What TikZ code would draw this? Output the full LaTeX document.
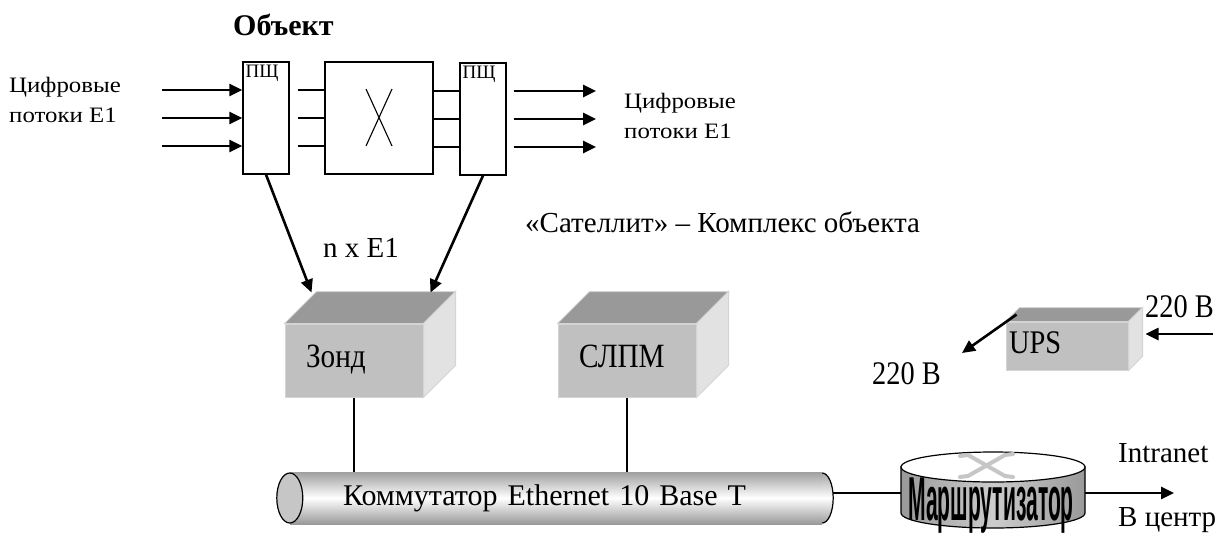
\documentclass[tikz,border=0pt]{standalone}
\usepackage{fontspec}
\setmainfont{Liberation Serif}
\newfontfamily\routerfont{Liberation Sans}
\newfontfamily\wideserif[FakeStretch=1.13]{Liberation Serif}
\newfontfamily\tallserif[FakeStretch=0.86]{Liberation Serif}
\usetikzlibrary{arrows.meta,positioning,calc}
\definecolor{boxfront}{HTML}{C0C0C0}
\definecolor{boxtop}{HTML}{999999}
\definecolor{boxside}{HTML}{E2E2E2}
\definecolor{boxedge}{HTML}{D4D4D4}
\newcommand{\fsz}[2]{\fontsize{#1}{#2}\selectfont}

\begin{document}
\begin{tikzpicture}[
    x=1pt, y=1pt, yscale=-1,
    arr/.style={-{Triangle[length=13pt,width=12pt]}, line width=2.6pt},
    wire/.style={line width=1.1pt},
    pshbox/.style={rectangle, draw, line width=1.2pt, minimum width=46pt,
                   minimum height=112pt, inner sep=0pt,
                   label={[anchor=north west, inner sep=3pt, font=\fsz{19}{19}]north west:ПЩ}},
    front/.style={rectangle, fill=boxfront, draw=boxedge, line width=1pt,
                  inner ysep=0pt, text height=13pt, text depth=0pt,
                  align=left, font=\fsz{34}{34}\tallserif},
    topface/.style={fill=boxtop, draw=boxedge, line width=1pt},
    sideface/.style={fill=boxside, draw=boxedge, line width=1pt},
    lbl/.style={anchor=base west, inner sep=0pt, font=\fsz{29}{29}},
    flow/.style={anchor=north west, inner sep=0pt, align=left, font=\fsz{22}{30}\wideserif},
]
    \useasboundingbox (0,0) rectangle (1226,542);

    % object: multiplexers and cross-connect
    \node[anchor=base west, inner sep=0pt, font=\fsz{30}{30}\bfseries] (obj) at (233,35) {Объект};
    \node[pshbox] (pshl) at (266,118) {};
    \node[rectangle, draw, line width=1.2pt, minimum width=108pt, minimum height=112pt] (xbox) at (379,118) {};
    \node[pshbox] (pshr) at (483,119) {};
    \draw[wire] ($(xbox.center)+(-13,-29)$) -- ($(xbox.center)+(13,28)$);
    \draw[wire] ($(xbox.center)+(13,-29)$) -- ($(xbox.center)+(-13,28)$);

    \coordinate (in) at (162,118);
    \coordinate (out) at (596,119);
    \foreach \dy in {-28,0,28} {
        \draw[arr] ($(in)+(0,\dy)$) -- ($(pshl.west)+(0,\dy)$);
        \draw[wire, shorten <=8pt] ($(pshl.east)+(0,\dy)$) -- ($(xbox.west)+(0,\dy)$);
        \draw[wire] ($(xbox.east)+(0,\dy+1)$) -- ($(pshr.west)+(0,\dy)$);
        \draw[arr, shorten <=7pt] ($(pshr.east)+(0,\dy)$) -- ($(out)+(0,\dy)$);
    }
    \node[flow] (flowin) at (9,77) {Цифровые\\потоки E1};
    \node[flow] (flowout) at (624,93) {Цифровые\\потоки E1};

    \node[lbl, font=\fsz{29}{29}] (nxe) at (323,257) {n x E1};
    \node[lbl] (sat) at (525,232) {«Сателлит» – Комплекс объекта};

    % boxes
    \node[front, minimum width=138pt, minimum height=73pt, inner xsep=21pt, text width=96pt] (zond) at (354,360.5) {Зонд};
    \fill[topface] (zond.north west) -- ++(32,-32) -- ($(zond.north east)+(32,-32)$) -- (zond.north east) -- cycle;
    \fill[sideface] (zond.north east) -- ++(32,-32) -- ($(zond.south east)+(32,-32)$) -- (zond.south east) -- cycle;

    \node[front, minimum width=138pt, minimum height=73pt, inner xsep=21pt, text width=96pt] (slpm) at (627,360.5) {СЛПМ};
    \fill[topface] (slpm.north west) -- ++(32,-32) -- ($(slpm.north east)+(32,-32)$) -- (slpm.north east) -- cycle;
    \fill[sideface] (slpm.north east) -- ++(32,-32) -- ($(slpm.south east)+(32,-32)$) -- (slpm.south east) -- cycle;

    \node[front, minimum width=122pt, minimum height=48pt, inner xsep=3pt, text width=116pt,
          text height=14pt, font=\fsz{33}{33}\tallserif] (ups) at (1067,346) {UPS};
    \fill[topface] (ups.north west) -- ++(14,-14) -- ($(ups.north east)+(14,-14)$) -- (ups.north east) -- cycle;
    \fill[sideface] (ups.north east) -- ++(14,-14) -- ($(ups.south east)+(14,-14)$) -- (ups.south east) -- cycle;

    \draw[arr] (pshl.south) -- ($(zond.north west)+(27,-31)$);
    \draw[arr] (pshr.south) -- ($(zond.north west)+(146,-31)$);

    % power
    \node[lbl, font=\fsz{33}{33}\tallserif] (vin) at (1145,317) {220 В};
    \node[lbl, font=\fsz{33}{33}\tallserif] (vout) at (872,384) {220 В};
    \coordinate (mains) at (1213,334);
    \coordinate (load) at (962,353);
    \draw[arr] (mains) -- ($(ups.east)+(17,-12)$);
    \draw[arr] ($(ups.north west)+(11,-7)$) -- (load);

    % switch
    \node[rectangle, minimum width=532pt, minimum height=52pt, inner xsep=53pt, text width=426pt,
          align=left, font=\fsz{30}{30}, top color=gray!75, bottom color=gray!80, middle color=white]
          (bus) at (556,498) {Коммутатор Ethernet 10 Base T};
    \draw[line width=1.2pt, fill=gray!45] (bus.west) ellipse [x radius=13, y radius=25];
    \draw[line width=1.2pt, top color=gray!70, bottom color=gray!75, middle color=white]
        ($(bus.east)+(0,-25)$) arc[start angle=-90, end angle=90, x radius=11, y radius=25];
    \draw[wire] (zond.south) -- (zond.south |- bus.north);
    \draw[wire] (slpm.south) -- (slpm.south |- bus.north);

    % router
    \coordinate (rin) at (901,493);
    \coordinate (rout) at (1085,493);
    \coordinate (center) at (1174,493);
    \draw[line width=1.2pt, left color=gray!80, right color=gray!80, middle color=gray!40]
        (901,467) -- (901,513) arc[start angle=180, end angle=0, x radius=92, y radius=15] -- (1085,467) -- cycle;
    \draw[line width=1.2pt, fill=white] (993,467) ellipse [x radius=92, y radius=15];
    \draw[gray!45, line width=4pt, line cap=round] (960,456) -- (968,455) -- (1005,476) -- (1013,477);
    \draw[gray!45, line width=4pt, line cap=round] (960,477) -- (968,476) -- (1005,455) -- (1013,454);
    \node[anchor=base, inner sep=0pt, font=\fsz{62}{62}\routerfont\bfseries] (router) at (991,520)
        {\scalebox{0.34}[1]{Маршрутизатор}};
    \draw[wire] ($(bus.east)+(11,-5)$) -- (rin);
    \draw[arr] (rout) -- (center);
    \node[lbl] (intranet) at (1118,462) {Intranet};
    \node[lbl] (tocenter) at (1118,526) {В центр};
\end{tikzpicture}
\end{document}
